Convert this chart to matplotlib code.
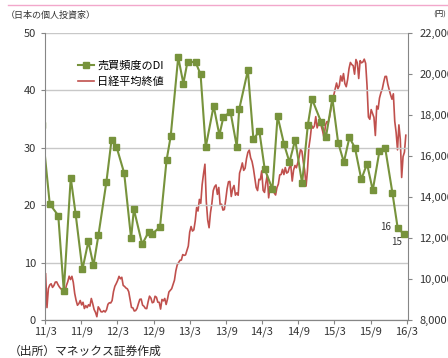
import matplotlib
matplotlib.use("Agg")
import matplotlib.pyplot as plt
from matplotlib.lines import Line2D
from matplotlib.ticker import FuncFormatter, MultipleLocator
import pandas as pd

plt.rcParams["font.family"] = ["Noto Sans CJK JP", "DejaVu Sans"]

# 売買頻度のDI (monthly survey)
di_dates = [
    "2011-02-20", "2011-04-01", "2011-05-14", "2011-06-11", "2011-07-16",
    "2011-08-10", "2011-09-13", "2011-10-13", "2011-11-08", "2011-12-03",
    "2012-01-12", "2012-02-07", "2012-03-03", "2012-04-11", "2012-05-16",
    "2012-05-30", "2012-07-11", "2012-08-12", "2012-08-31", "2012-10-09",
    "2012-11-11", "2012-12-02", "2013-01-09", "2013-02-04", "2013-02-25",
    "2013-04-07", "2013-05-02", "2013-05-28", "2013-07-07", "2013-08-05",
    "2013-08-25", "2013-09-30", "2013-11-01", "2013-11-13", "2013-12-27",
    "2014-01-24", "2014-02-23", "2014-03-22", "2014-04-30", "2014-05-26",
    "2014-06-28", "2014-07-25", "2014-08-23", "2014-09-27", "2014-10-26",
    "2014-11-16", "2015-01-01", "2015-01-25", "2015-02-27", "2015-03-28",
    "2015-04-26", "2015-05-24", "2015-06-21", "2015-07-23", "2015-08-21",
    "2015-09-19", "2015-10-23", "2015-11-21", "2015-12-27", "2016-01-23",
    "2016-02-23",
]
di_values = [
    34.0, 20.2, 18.2, 5.0, 24.8, 18.4, 8.8, 13.7, 9.5, 14.8,
    24.0, 31.3, 30.2, 25.6, 14.2, 19.3, 13.2, 15.3, 15.0, 16.2,
    27.8, 32.0, 45.8, 41.2, 45.0, 44.9, 42.8, 30.1, 37.3, 32.2,
    35.3, 36.3, 30.2, 36.7, 43.5, 31.5, 32.9, 26.3, 22.8, 35.5,
    30.6, 27.5, 31.4, 23.8, 34.0, 38.5, 34.5, 31.8, 38.6, 30.9,
    27.5, 31.8, 30.0, 24.5, 27.2, 22.6, 29.5, 29.9, 22.2, 16,
    15,
]

# 日経平均終値 (weekly, Fridays)
nikkei_start = "2011-03-11"
nikkei_end = "2016-03-04"
nikkei_close = [
    # 2011
    10254, 8605, 9536, 9708, 9768, 9591, 9682, 9849, 9859, 9717,
    9607, 9521, 9492, 9514, 9351, 9678, 9868, 10137, 9974, 10132,
    9833, 9299, 8963, 8719, 8797, 8950, 8737, 8864, 8560, 8700,
    8605, 8747, 8678, 9050, 8801, 8514, 8374, 8160, 8643, 8536,
    8401, 8395, 8455,
    # 2012
    8390, 8500, 8766, 8841, 8831, 8947, 9384, 9647, 9777, 9929,
    10129, 10011, 10084, 9688, 9637, 9561, 9521, 9380, 9009, 8611,
    8593, 8440, 8460, 8569, 8798, 9007, 9021, 8725, 8670, 8566,
    8555, 8891, 9163, 9070, 8840, 8872, 9159, 9110, 8870, 8863,
    8534, 9002, 8933, 9051, 8757, 9024, 9366, 9446, 9527, 9737,
    9940, 10395,
    # 2013
    10688, 10801, 10913, 10926, 11191, 11153, 11173, 11386, 11606, 12283,
    12560, 12338, 12397, 12833, 13485, 13316, 13884, 13694, 14607, 15138,
    15600, 13775, 12877, 12500, 13230, 13677, 14310, 14506, 14589, 14129,
    14466, 13605, 13650, 13361, 13389, 13860, 14404, 14742, 14760, 14024,
    14404, 14561, 14088, 14201, 14086, 15165, 15381, 15662, 15299, 15403,
    15870, 16178,
    # 2014
    16291, 15912, 15734, 15391, 14915, 14462, 14313, 14865, 14841, 15274,
    14327, 14224, 14696, 15063, 13960, 14516, 14429, 14457, 14199, 14097,
    14462, 14632, 15077, 15097, 15349, 15095, 15437, 15164, 15215, 15457,
    15523, 14778, 15318, 15539, 15425, 15668, 15948, 16321, 16229, 15708,
    15300, 14532, 15291, 16414, 16880, 17490, 17357, 17459, 17920, 17371,
    17621, 17818,
    # 2015
    17451, 17198, 16864, 17511, 17674, 17648, 17913, 18332, 18798, 18971,
    19254, 19560, 19286, 19435, 19908, 19653, 20020, 19532, 19379, 19733,
    20264, 20563, 20461, 20407, 19991, 20706, 20540, 19780, 20650, 20544,
    20585, 20724, 20520, 19436, 17900, 17792, 18264, 18070, 17880, 17000,
    18438, 18291, 18826, 19083, 19265, 19597, 19880, 19884, 19504, 19230,
    18986, 18770,
    # 2016
    19034, 17698, 17147, 16300, 17518, 16820, 14952, 15967, 16188, 17014,
]

tick_dates = pd.date_range("2011-03-08", periods=11, freq=pd.DateOffset(months=6))
tick_labels = [f"{d.year % 100}/{d.month}" for d in tick_dates]

GREEN = "#77933C"
RED = "#C0504D"
AXIS = "#868686"
TEXT = "#333333"

di_x = pd.to_datetime(di_dates)
nikkei_x = pd.date_range(nikkei_start, nikkei_end, freq="W-FRI")

fig = plt.figure(figsize=(4.48, 3.58), dpi=100)
ax = fig.add_axes([45 / 448, 38 / 358, 363 / 448, 287 / 358])
ax2 = ax.twinx()

ax2.plot(nikkei_x, nikkei_close, color=RED, lw=1.2, label="日経平均終値")
ax.plot(di_x, di_values, color=GREEN, lw=1.5, marker="s", markersize=4.3,
        label="売買頻度のDI")

# DI line sits above the index line
ax.set_zorder(ax2.get_zorder() + 1)
ax.patch.set_visible(False)

ax.set_xlim(pd.Timestamp("2011-03-08"), pd.Timestamp("2016-03-15"))
ax.set_xticks(tick_dates)
ax.set_xticklabels(tick_labels)

ax.set_ylim(0, 50)
ax.yaxis.set_major_locator(MultipleLocator(10))
ax.yaxis.grid(True, color="#C8C8C8", lw=1)
ax.set_axisbelow(True)

ax2.set_ylim(8000, 22000)
ax2.yaxis.set_major_locator(MultipleLocator(2000))
ax2.yaxis.set_major_formatter(FuncFormatter(lambda v, _: f"{v:,.0f}"))

for a in (ax, ax2):
    a.spines["top"].set_visible(False)
    for s in ("left", "right", "bottom"):
        a.spines[s].set_color(AXIS)
ax.spines["right"].set_visible(False)
ax2.spines["left"].set_visible(False)

ax.tick_params(axis="both", length=3, color=AXIS, labelcolor=TEXT, labelsize=8)
ax.tick_params(axis="x", pad=2)
ax2.tick_params(axis="y", length=3, color=AXIS, labelcolor=TEXT, labelsize=8, pad=5)

# value labels on the last two survey points
ax.annotate(f"{di_values[-2]:g}", (di_x[-2], di_values[-2]), xytext=(-5, 1),
            textcoords="offset points", ha="right", va="center",
            fontsize=7, color=TEXT)
ax.annotate(f"{di_values[-1]:g}", (di_x[-1], di_values[-1]), xytext=(-5, -6),
            textcoords="offset points", ha="center", va="center",
            fontsize=7, color=TEXT)

handles = ax.get_legend_handles_labels()[0] + ax2.get_legend_handles_labels()[0]
ax.legend(handles=handles, loc="upper left", bbox_to_anchor=(0.08, 0.92),
          frameon=False, fontsize=8, handlelength=1.4, handletextpad=0.3,
          labelspacing=0.55, borderaxespad=0)

fig.add_artist(Line2D([8 / 448, 1], [1 - 5 / 358, 1 - 5 / 358],
                      color="#F2A7CB", lw=1))
fig.text(6 / 448, 1 - 15 / 358, "（日本の個人投資家）", fontsize=6.5,
         color=TEXT, va="center")
fig.text(433 / 448, 1 - 15 / 358, "(円)", fontsize=5.5, color=TEXT, va="center")
fig.text(9 / 448, 1 - 351 / 358, "（出所）マネックス証券作成", fontsize=8.5,
         color="#222222", va="center")

fig.savefig("out.png", dpi=100)
